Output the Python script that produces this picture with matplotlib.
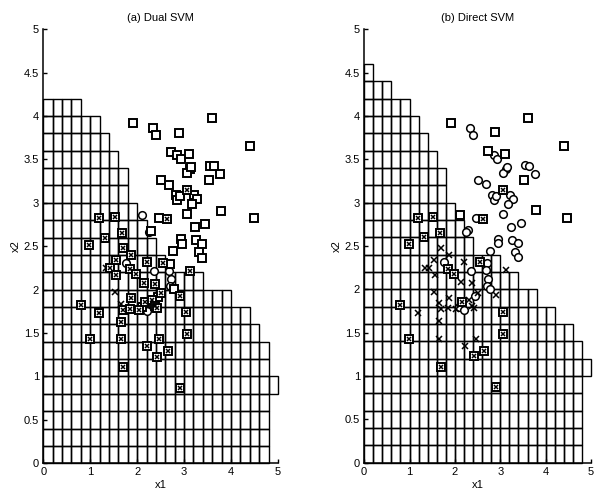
import numpy as np
import matplotlib
matplotlib.use("Agg")
import matplotlib.pyplot as plt
from matplotlib.patches import Rectangle

plt.rcParams['font.family'] = ['Liberation Sans', 'DejaVu Sans']

# grid cell size and row extents (right edge of each 0.2-high row, bottom to top)
cell = 0.2
rows_a = [4.8, 4.8, 4.8, 4.8, 5.0, 4.8, 4.8, 4.6, 4.4, 4.0, 3.4,
          2.6, 2.4, 2.2, 2.0, 1.8, 1.8, 1.6, 1.4, 1.2, 0.8]
rows_b = [4.8, 4.8, 4.8, 4.8, 4.8, 5.0, 4.8, 4.6, 4.2, 3.8, 3.4,
          3.0, 2.4, 2.2, 2.0, 1.8, 1.8, 1.6, 1.4, 1.2, 1.0, 0.6, 0.2]

# class +1 (circles)
pos_x = [1.91, 2.34, 2.40, 2.89, 3.60, 4.40, 2.72, 2.86, 2.93, 3.10,
         3.12, 3.06, 3.15, 3.55, 3.64, 3.77, 3.53, 2.50, 2.68, 2.82,
         2.86, 2.91, 3.21, 3.28, 3.16, 3.78, 4.48, 3.06, 2.11, 2.46,
         2.29, 2.25, 3.23, 3.45, 2.94, 2.95, 3.26, 3.38, 3.32, 3.38,
         2.77, 2.70, 2.68, 2.72, 2.70, 2.78, 2.36, 1.76, 2.10, 2.20,
         2.45]
pos_y = [3.92, 3.86, 3.78, 3.81, 3.98, 3.65, 3.59, 3.55, 3.50, 3.56,
         3.39, 3.34, 3.41, 3.43, 3.42, 3.33, 3.26, 3.26, 3.21, 3.09,
         3.03, 3.08, 3.09, 3.04, 2.99, 2.91, 2.82, 2.87, 2.86, 2.82,
         2.68, 2.66, 2.72, 2.76, 2.58, 2.53, 2.57, 2.53, 2.43, 2.37,
         2.44, 2.30, 2.22, 2.12, 2.04, 2.01, 2.21, 2.31, 1.80, 1.76,
         1.92]
pos_sv_a = [1, 1, 1, 1, 1, 1, 1, 1, 1, 1,
            1, 1, 1, 1, 1, 1, 1, 1, 1, 1,
            1, 1, 1, 1, 1, 1, 1, 1, 0, 1,
            1, 0, 1, 1, 1, 1, 1, 1, 1, 1,
            1, 1, 0, 0, 0, 1, 0, 0, 1, 0,
            1]
pos_sv_b = [1, 0, 0, 1, 1, 1, 1, 0, 0, 1,
            0, 0, 0, 0, 0, 0, 1, 0, 0, 0,
            0, 0, 0, 0, 0, 1, 1, 0, 1, 0,
            0, 0, 0, 0, 0, 0, 0, 0, 0, 0,
            0, 0, 0, 0, 0, 0, 0, 0, 0, 0,
            0]

# class -1 (crosses)
neg_x = [1.19, 1.52, 1.32, 1.67, 0.98, 1.70, 1.87, 1.55, 1.33, 1.42,
         1.56, 1.84, 1.97, 2.20, 2.14, 2.38, 2.56, 3.12, 2.91, 1.53,
         1.65, 1.70, 1.87, 1.84, 2.03, 2.16, 2.31, 2.38, 2.43, 2.50,
         0.80, 1.19, 1.66, 1.66, 0.99, 2.22, 2.47, 2.43, 2.65, 3.05,
         3.06, 1.69, 2.91, 3.07, 2.63]
neg_y = [2.82, 2.84, 2.60, 2.65, 2.52, 2.48, 2.40, 2.34, 2.25, 2.25,
         2.17, 2.24, 2.18, 2.32, 2.08, 2.07, 2.31, 2.22, 1.93, 1.97,
         1.84, 1.77, 1.90, 1.78, 1.77, 1.86, 1.88, 1.81, 1.79, 1.96,
         1.82, 1.73, 1.63, 1.43, 1.43, 1.35, 1.43, 1.23, 1.29, 1.74,
         1.49, 1.11, 0.87, 3.15, 2.81]
neg_sv_a = [1, 1, 1, 1, 1, 1, 1, 1, 0, 1,
            1, 1, 1, 1, 1, 1, 1, 1, 1, 0,
            0, 1, 1, 1, 1, 1, 1, 1, 1, 1,
            1, 1, 1, 1, 1, 1, 1, 1, 1, 1,
            1, 1, 1, 1, 1]
neg_sv_b = [1, 1, 1, 1, 1, 0, 0, 0, 0, 0,
            0, 1, 1, 0, 0, 0, 1, 0, 0, 0,
            0, 0, 0, 0, 0, 1, 0, 0, 0, 0,
            1, 0, 0, 0, 1, 0, 0, 1, 1, 1,
            1, 1, 1, 1, 1]

titles = ['(a) Dual SVM', '(b) Direct SVM']
y_ticks = [0, 0.5, 1, 1.5, 2, 2.5, 3, 3.5, 4, 4.5, 5]
x_ticks = [0, 1, 2, 3, 4, 5]

fig = plt.figure(figsize=(5.97, 4.95), dpi=100)
ax_a = fig.add_axes([0.0725, 0.064, 0.393, 0.877])
ax_b = fig.add_axes([0.610, 0.065, 0.380, 0.876])


def draw_panel(ax, rows, pos_sv, neg_sv, title):
    # staircase grid of cells
    for i, xmax in enumerate(rows):
        n = int(round(xmax / cell))
        for k in range(n):
            ax.add_patch(Rectangle((k * cell, i * cell), cell, cell, fill=False,
                                   edgecolor='black', lw=1.0, clip_on=False, zorder=1))

    px = np.array(pos_x)
    py = np.array(pos_y)
    ps = np.array(pos_sv, dtype=bool)
    nx = np.array(neg_x)
    ny = np.array(neg_y)
    ns = np.array(neg_sv, dtype=bool)

    # plain points
    ax.plot(px[~ps], py[~ps], 'o', mfc='white', mec='black', ms=5.5, mew=1.1, zorder=3)
    ax.plot(nx[~ns], ny[~ns], 'x', color='black', ms=4.5, mew=1.1, zorder=3)
    # support vectors: point with a square round it
    ax.plot(px[ps], py[ps], 's', mfc='white', mec='black', ms=5.3, mew=1.4, zorder=4)
    ax.plot(nx[ns], ny[ns], 's', mfc='white', mec='black', ms=5.3, mew=1.4, zorder=4)
    ax.plot(nx[ns], ny[ns], 'x', color='black', ms=3, mew=1.1, zorder=5)

    ax.set_xlim(0, 5)
    ax.set_ylim(0, 5)
    ax.spines['top'].set_visible(False)
    ax.spines['right'].set_visible(False)
    for s in ['left', 'bottom']:
        ax.spines[s].set_linewidth(1.1)
    ax.set_xticks(x_ticks)
    ax.set_yticks(y_ticks)
    ax.set_yticklabels([f'{v:g}' for v in y_ticks])
    ax.tick_params(direction='in', length=3, width=1.0, labelsize=8, pad=3)
    ax.set_xlabel('x1', fontsize=8, labelpad=2)
    ax.set_ylabel('x2', fontsize=8, labelpad=2)
    ax.set_title(title, fontsize=8, pad=6)


draw_panel(ax_a, rows_a, pos_sv_a, neg_sv_a, titles[0])
draw_panel(ax_b, rows_b, pos_sv_b, neg_sv_b, titles[1])

fig.savefig('out.png', dpi=100)
